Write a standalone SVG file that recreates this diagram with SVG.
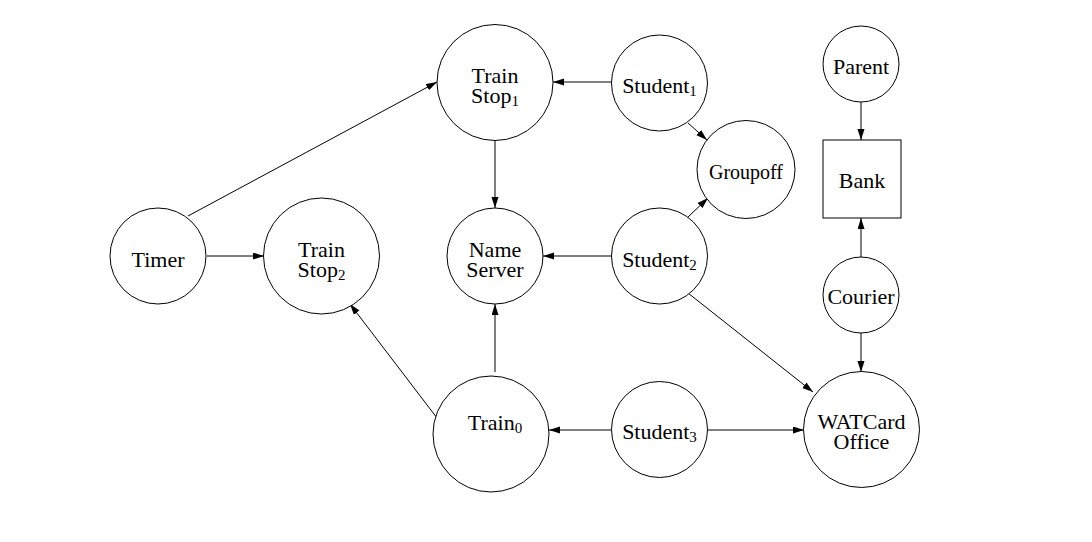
<svg xmlns="http://www.w3.org/2000/svg" width="1092" height="542" viewBox="0 0 1092 542">
<style>
.n{fill:#fff;stroke:#000;stroke-width:1}
.t{font-family:"Liberation Serif","Times New Roman",serif;font-size:22px;fill:#000;text-anchor:middle}
.s{font-size:15px}
.e{stroke:#000;stroke-width:1;fill:none;marker-end:url(#a)}
</style>
<defs>
<marker id="a" markerUnits="userSpaceOnUse" markerWidth="12" markerHeight="8" refX="11" refY="3.5" orient="auto">
<path d="M0,0 L11,3.5 L0,7 z" fill="#000"/>
</marker>
</defs>
<rect width="1092" height="542" fill="#fff"/>
<g id="edges">
<line class="e" x1="188" y1="216" x2="437" y2="82"/>
<line class="e" x1="207" y1="256" x2="264" y2="256"/>
<line class="e" x1="437" y1="418" x2="350" y2="304"/>
<line class="e" x1="495" y1="372" x2="495" y2="304"/>
<line class="e" x1="495" y1="141" x2="495" y2="208"/>
<line class="e" x1="611" y1="82" x2="553" y2="82"/>
<line class="e" x1="688" y1="123" x2="707" y2="140"/>
<line class="e" x1="688" y1="217" x2="708" y2="198"/>
<line class="e" x1="611" y1="256" x2="543" y2="256"/>
<line class="e" x1="688" y1="293" x2="813" y2="392"/>
<line class="e" x1="611" y1="430" x2="549" y2="430"/>
<line class="e" x1="707" y1="430" x2="804" y2="430"/>
<line class="e" x1="861" y1="102" x2="861" y2="140"/>
<line class="e" x1="861" y1="257" x2="861" y2="218"/>
<line class="e" x1="861" y1="333" x2="861" y2="372"/>
</g>
<g id="timer"><circle class="n" cx="158" cy="256" r="48"/><text class="t" x="158" y="267">Timer</text></g>
<g id="trainstop1"><circle class="n" cx="495" cy="82.5" r="58"/><text class="t" x="495" y="83">Train</text><text class="t" x="495" y="103">Stop<tspan class="s" dy="3">1</tspan></text></g>
<g id="trainstop2"><circle class="n" cx="321.5" cy="256" r="58"/><text class="t" x="321.5" y="257">Train</text><text class="t" x="321.5" y="277">Stop<tspan class="s" dy="3">2</tspan></text></g>
<g id="nameserver"><circle class="n" cx="495" cy="256" r="48"/><text class="t" x="495" y="257">Name</text><text class="t" x="495" y="277">Server</text></g>
<g id="train0"><circle class="n" cx="491" cy="434" r="58"/><text class="t" x="495" y="430">Train<tspan class="s" dy="3">0</tspan></text></g>
<g id="student1"><circle class="n" cx="659.5" cy="83" r="48"/><text class="t" x="659.5" y="93">Student<tspan class="s" dy="3">1</tspan></text></g>
<g id="student2"><circle class="n" cx="659.5" cy="256" r="48"/><text class="t" x="659.5" y="267">Student<tspan class="s" dy="3">2</tspan></text></g>
<g id="student3"><circle class="n" cx="659.5" cy="429.5" r="48"/><text class="t" x="659.5" y="439">Student<tspan class="s" dy="3">3</tspan></text></g>
<g id="groupoff"><circle class="n" cx="746" cy="169.5" r="49"/><text class="t" x="746" y="179" style="font-size:20px">Groupoff</text></g>
<g id="parent"><circle class="n" cx="861" cy="64" r="38"/><text class="t" x="861" y="74">Parent</text></g>
<g id="bank"><rect class="n" x="823" y="140" width="78" height="78"/><text class="t" x="862" y="188">Bank</text></g>
<g id="courier"><circle class="n" cx="861" cy="295" r="38"/><text class="t" x="861" y="304">Courier</text></g>
<g id="watcard"><circle class="n" cx="861.5" cy="429.5" r="58"/><text class="t" x="861.5" y="428.5">WATCard</text><text class="t" x="861.5" y="448.5">Office</text></g>
</svg>
